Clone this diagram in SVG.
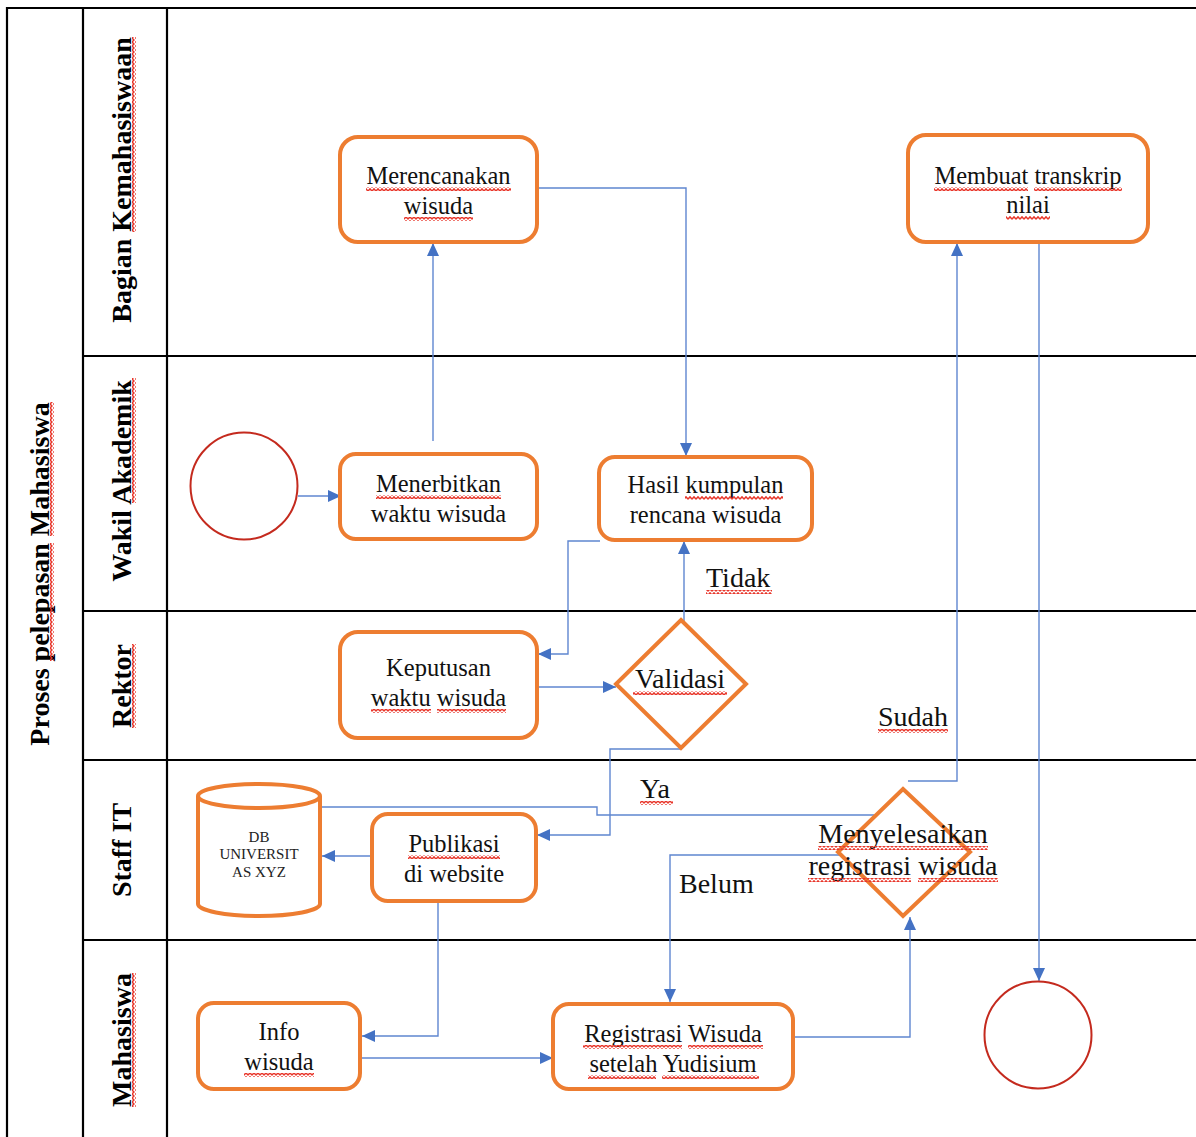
<svg xmlns="http://www.w3.org/2000/svg" width="1196" height="1137" viewBox="0 0 1196 1137">
<style>
.frame{stroke:#000;stroke-width:2.2;fill:none}
.node{fill:#fff;stroke:#ED7D31;stroke-width:4}
.term{fill:#fff;stroke:#C42A1E;stroke-width:2}
.con{fill:none;stroke:#5F86D0;stroke-width:1.4}
.lane{font-family:"Liberation Serif","Times New Roman",serif;font-weight:bold;font-size:28px;fill:#000}
.t{font-family:"Liberation Serif","Times New Roman",serif;font-size:24.5px;fill:#111;text-anchor:middle}
.big{font-family:"Liberation Serif","Times New Roman",serif;font-size:28px;fill:#111}
.db{font-family:"Liberation Serif","Times New Roman",serif;font-size:15px;fill:#222;text-anchor:middle}
.sq{fill:url(#squig)}
</style>
<defs>
<pattern id="squig" patternUnits="userSpaceOnUse" width="4" height="4">
<path d="M0 3.2 L2 0.8 L4 3.2" fill="none" stroke="#E8362A" stroke-width="1.4"/>
</pattern>
<marker id="arr" markerUnits="userSpaceOnUse" markerWidth="13" markerHeight="12" refX="13" refY="6" orient="auto">
<path d="M0,0 L13,6 L0,12 z" fill="#4472C4"/>
</marker>
</defs>
<rect width="1196" height="1137" fill="#fff"/>
<g id="lanes">
<path class="frame" d="M7,1137 V8 H1196 M83,8 V1137 M167,8 V1137 M83,356 H1196 M83,611 H1196 M83,760 H1196 M83,940 H1196"/>
<g transform="translate(49,574) rotate(-90)">
<text class="lane" x="0" y="0" text-anchor="middle">Proses pelepasan Mahasiswa</text>
<rect class="sq" x="-87" y="1" width="118" height="4"/>
<rect class="sq" x="38" y="1" width="134" height="4"/>
</g>
<g transform="translate(131,180) rotate(-90)">
<text class="lane" x="0" y="0" text-anchor="middle">Bagian Kemahasiswaan</text>
<rect class="sq" x="-52" y="1" width="195" height="4"/>
</g>
<g transform="translate(131,481) rotate(-90)">
<text class="lane" x="0" y="0" text-anchor="middle">Wakil Akademik</text>
<rect class="sq" x="-22" y="1" width="125" height="4"/>
</g>
<g transform="translate(131,686) rotate(-90)">
<text class="lane" x="0" y="0" text-anchor="middle">Rektor</text>
<rect class="sq" x="-42" y="1" width="84" height="4"/>
</g>
<g transform="translate(131,850) rotate(-90)">
<text class="lane" x="0" y="0" text-anchor="middle">Staff IT</text>
</g>
<g transform="translate(131,1040) rotate(-90)">
<text class="lane" x="0" y="0" text-anchor="middle">Mahasiswa</text>
<rect class="sq" x="-67" y="1" width="134" height="4"/>
</g>
</g>
<g id="connectors">
<path class="con" d="M298,496 H341" marker-end="url(#arr)"/>
<path class="con" d="M433,441 V243" marker-end="url(#arr)"/>
<path class="con" d="M538,188 H686 V456" marker-end="url(#arr)"/>
<path class="con" d="M600,541 H568 V654 H538" marker-end="url(#arr)"/>
<path class="con" d="M538,687 H616" marker-end="url(#arr)"/>
<path class="con" d="M684,621 V541" marker-end="url(#arr)"/>
<path class="con" d="M682,749 H610 V835 H537" marker-end="url(#arr)"/>
<path class="con" d="M373,856 H322" marker-end="url(#arr)"/>
<path class="con" d="M321,807 H597 V815 H874"/>
<path class="con" d="M438,902 V1036 H362" marker-end="url(#arr)"/>
<path class="con" d="M362,1058 H553" marker-end="url(#arr)"/>
<path class="con" d="M794,1037 H910 V917" marker-end="url(#arr)"/>
<path class="con" d="M842,855 H670 V1002" marker-end="url(#arr)"/>
<path class="con" d="M908,781 H957 V243" marker-end="url(#arr)"/>
<path class="con" d="M1039,243 V981" marker-end="url(#arr)"/>
</g>
<g id="start">
<circle class="term" cx="244" cy="486" r="53.5"/>
</g>
<g id="end">
<circle class="term" cx="1038" cy="1035" r="53.5"/>
</g>
<g id="merencanakan">
<rect class="node" x="340" y="137" width="197" height="105" rx="18"/>
<text class="t" x="438.5" y="184">Merencanakan</text>
<text class="t" x="438.5" y="214">wisuda</text>
<rect class="sq" x="366" y="187" width="145" height="4"/>
<rect class="sq" x="404" y="217" width="69" height="4"/>
</g>
<g id="transkrip">
<rect class="node" x="908" y="135" width="240" height="107" rx="18"/>
<text class="t" x="1028" y="184">Membuat transkrip</text>
<text class="t" x="1028" y="213">nilai</text>
<rect class="sq" x="934" y="187" width="94" height="4"/>
<rect class="sq" x="1034" y="187" width="88" height="4"/>
<rect class="sq" x="1006" y="216" width="44" height="4"/>
</g>
<g id="menerbitkan">
<rect class="node" x="340" y="454" width="197" height="85" rx="16"/>
<text class="t" x="438.5" y="492">Menerbitkan</text>
<text class="t" x="438.5" y="522">waktu wisuda</text>
<rect class="sq" x="376" y="495" width="125" height="4"/>
</g>
<g id="hasil">
<rect class="node" x="599" y="457" width="213" height="83" rx="16"/>
<text class="t" x="705.5" y="493">Hasil kumpulan</text>
<text class="t" x="705.5" y="523">rencana wisuda</text>
<rect class="sq" x="685" y="496" width="98" height="4"/>
</g>
<g id="keputusan">
<rect class="node" x="340" y="632" width="197" height="106" rx="18"/>
<text class="t" x="438.5" y="676">Keputusan</text>
<text class="t" x="438.5" y="706">waktu wisuda</text>
<rect class="sq" x="371" y="709" width="60" height="4"/>
<rect class="sq" x="437" y="709" width="69" height="4"/>
</g>
<g id="validasi">
<path class="node" d="M681,620 L746,684 L681,748 L616,684 Z"/>
<text class="big" x="680" y="688" text-anchor="middle">Validasi</text>
<rect class="sq" x="633" y="691" width="94" height="4"/>
</g>
<g id="db">
<path class="node" d="M198,796 V904 A61,12 0 0 0 320,904 V796"/>
<ellipse class="node" cx="259" cy="796" rx="61" ry="12"/>
<text class="db" x="259" y="842">DB</text>
<text class="db" x="259" y="859">UNIVERSIT</text>
<text class="db" x="259" y="877">AS XYZ</text>
</g>
<g id="publikasi">
<rect class="node" x="372" y="814" width="164" height="87" rx="16"/>
<text class="t" x="454" y="852">Publikasi</text>
<text class="t" x="454" y="882">di website</text>
<rect class="sq" x="408" y="855" width="92" height="4"/>
</g>
<g id="menyelesaikan">
<path class="node" d="M903,789 L970,852 L903,916 L838,852 Z"/>
<text class="big" x="903" y="843" text-anchor="middle">Menyelesaikan</text>
<text class="big" x="903" y="875" text-anchor="middle">registrasi wisuda</text>
<rect class="sq" x="818" y="846" width="170" height="4"/>
<rect class="sq" x="808" y="878" width="103" height="4"/>
<rect class="sq" x="918" y="878" width="80" height="4"/>
</g>
<g id="info">
<rect class="node" x="198" y="1003" width="162" height="86" rx="16"/>
<text class="t" x="279" y="1040">Info</text>
<text class="t" x="279" y="1070">wisuda</text>
<rect class="sq" x="244" y="1073" width="70" height="4"/>
</g>
<g id="registrasi">
<rect class="node" x="553" y="1004" width="240" height="85" rx="16"/>
<text class="t" x="673" y="1042">Registrasi Wisuda</text>
<text class="t" x="673" y="1072">setelah Yudisium</text>
<rect class="sq" x="583" y="1045" width="99" height="4"/>
<rect class="sq" x="688" y="1045" width="75" height="4"/>
<rect class="sq" x="588" y="1075" width="68" height="4"/>
<rect class="sq" x="662" y="1075" width="97" height="4"/>
</g>
<g id="labels">
<text class="big" x="706" y="587">Tidak</text>
<rect class="sq" x="706" y="590" width="66" height="4"/>
<text class="big" x="878" y="726">Sudah</text>
<rect class="sq" x="878" y="729" width="70" height="4"/>
<text class="big" x="640" y="798">Ya</text>
<rect class="sq" x="640" y="801" width="33" height="4"/>
<text class="big" x="679" y="893">Belum</text>
</g>
</svg>
